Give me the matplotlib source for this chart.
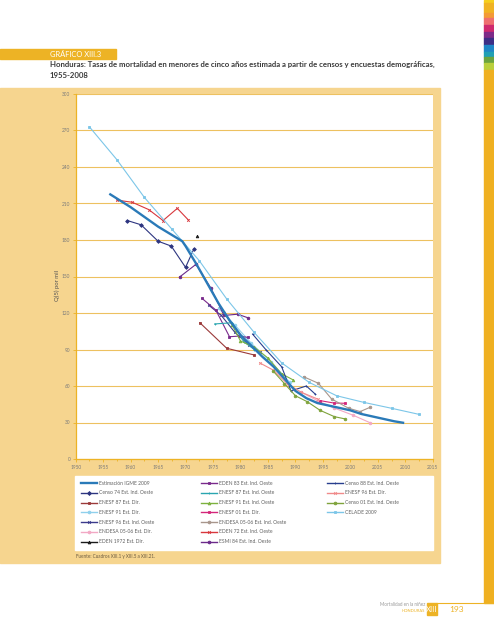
import matplotlib
matplotlib.use("Agg")
import matplotlib.pyplot as plt
from matplotlib.patches import Rectangle
from matplotlib.lines import Line2D
import numpy as np

plt.rcParams['font.family'] = ['Lato', 'DejaVu Sans']

# ---- data ----
igme_years = [1956.3, 1960, 1965, 1969.4, 1970, 1972, 1974, 1976, 1978, 1980, 1982, 1984,
              1986, 1988, 1990, 1992, 1994, 1996, 1998, 2000, 2002, 2004, 2006, 2008, 2009.6]
igme_vals = [217.5, 207, 191, 179, 175, 160, 144, 128, 114, 102, 93, 84,
             76, 66, 56, 50, 46, 44, 42, 40, 37, 35, 33, 31, 29.8]

celade_years = [1952.5, 1957.5, 1962.5, 1967.5, 1972.5, 1977.5, 1982.5, 1987.5, 1992.5,
                1997.5, 2002.5, 2007.5, 2012.5]
celade_vals = [273, 246, 215, 189, 163, 131.5, 104, 79, 63, 52, 46.5, 41.7, 36.7]

eden72_years = [1957.5, 1960.3, 1963.3, 1965.9, 1968.5, 1970.5]
eden72_vals = [212.8, 211, 205, 196, 206, 196.5]

censo74_years = [1959.4, 1961.9, 1965.0, 1967.4, 1970.0, 1971.5]
censo74_vals = [196, 192.5, 179, 175, 157.5, 172.5]

eden1972_years = [1972.0]
eden1972_vals = [183.5]

esmi84_years = [1968.9, 1971.9, 1974.6, 1977.0, 1979.5, 1981.4]
esmi84_vals = [149.5, 160, 140.5, 118, 119, 116]

eden83_years = [1973.0, 1975.5, 1978.0, 1979.7, 1981.3]
eden83_vals = [132, 122.5, 100.5, 101, 100]

enesf96i_years = [1974.2, 1976.5, 1979.0, 1981.5, 1983.5]
enesf96i_vals = [126.5, 118, 104, 94, 88]

enesf87i_years = [1975.3, 1978.5, 1980.6, 1982.5]
enesf87i_vals = [111, 112, 96.4, 90]

enesf87d_years = [1972.6, 1977.5, 1982.5]
enesf87d_vals = [112, 91, 85.5]

enesf91i_years = [1977.0, 1978.5, 1980.0, 1982.5, 1985.0, 1987.5, 1989.6]
enesf91i_vals = [120.5, 110, 97, 92, 83, 70, 65]

enesf91d_years = [1976.0, 1979.0, 1982.0, 1985.5, 1989.0]
enesf91d_vals = [124, 110, 95, 80, 63]

censo01_years = [1986.0, 1988.0, 1990.0, 1992.2, 1994.5, 1997.1, 1999.1]
censo01_vals = [72, 62, 52, 47, 40, 34.8, 32.9]

censo88_years = [1982.2, 1984.6, 1987.5, 1989.2, 1992.0, 1993.6]
censo88_vals = [102.7, 90, 75.8, 56, 60, 53.4]

enesf96d_years = [1983.5, 1986.0, 1988.5, 1991.0, 1994.2]
enesf96d_vals = [79, 73, 62, 55, 49]

endesad_years = [1991.0, 1994.0, 1997.0, 2000.5, 2003.6]
endesad_vals = [55, 48, 42, 36, 29.8]

endesai_years = [1991.5, 1994.2, 1996.6, 1999.7, 2001.8, 2003.6]
endesai_vals = [67.6, 62.2, 49.3, 41.7, 39, 42.5]

enesf01d_years = [1994.5, 1997.0, 1999.1]
enesf01d_vals = [48, 46, 45.8]

# label, years, values, colour, marker, linewidth
series = [
    ("Estimación IGME 2009", igme_years, igme_vals, '#2A7AB8', None, 1.7),
    ("Censo 74 Est. Ind. Oeste", censo74_years, censo74_vals, '#2D3580', 'D', 0.8),
    ("ENESF 87 Est. Dir.", enesf87d_years, enesf87d_vals, '#9B3A3A', 's', 0.8),
    ("ENESF 91 Est. Dir.", enesf91d_years, enesf91d_vals, '#8FD0EC', 'o', 0.8),
    ("ENESF 96 Est. Ind. Oeste", enesf96i_years, enesf96i_vals, '#3B3A8C', 'x', 0.8),
    ("ENDESA 05-06 Est. Dir.", endesad_years, endesad_vals, '#F2A8C4', 'o', 0.8),
    ("EDEN 1972 Est. Dir.", eden1972_years, eden1972_vals, '#1A1A1A', '^', 0.8),
    ("EDEN 83 Est. Ind. Oeste", eden83_years, eden83_vals, '#7A2B8C', 's', 0.8),
    ("ENESF 87 Est. Ind. Oeste", enesf87i_years, enesf87i_vals, '#2AA6B0', '+', 0.8),
    ("ENESF 91 Est. Ind. Oeste", enesf91i_years, enesf91i_vals, '#7DB23F', '^', 0.8),
    ("ENESF 01 Est. Dir.", enesf01d_years, enesf01d_vals, '#D4267A', 's', 0.8),
    ("ENDESA 05-06 Est. Ind. Oeste", endesai_years, endesai_vals, '#A8968C', 'o', 0.8),
    ("EDEN 72 Est. Ind. Oeste", eden72_years, eden72_vals, '#D8373D', 'x', 0.8),
    ("ESMI 84 Est. Ind. Oeste", esmi84_years, esmi84_vals, '#6B2A8A', 'o', 0.8),
    ("Censo 88 Est. Ind. Oeste", censo88_years, censo88_vals, '#283E8E', '+', 0.8),
    ("ENESF 96 Est. Dir.", enesf96d_years, enesf96d_vals, '#F08A8A', 'x', 0.8),
    ("Censo 01 Est. Ind. Oeste", censo01_years, censo01_vals, '#7FA33B', 'o', 0.8),
    ("CELADE 2009", celade_years, celade_vals, '#7CC6E8', 's', 0.8),
]

y_ticks = list(range(0, 301, 30))
x_ticks = list(range(1950, 2016, 5))

W, H = 494, 640
def fx(x): return x / W
def fy(y): return 1 - y / H

fig = plt.figure(figsize=(4.94, 6.4), dpi=100)
gold = '#EDB325'
peach = '#F6D58F'
grid_gold = '#EDC160'

# right colour strip
strip = [(0, 3, '#F5CF1E'), (3, 13, '#F0B323'), (13, 18, '#F39A36'), (18, 25, '#EE6F6F'),
         (25, 32, '#CE2A6E'), (32, 38, '#7E2B88'), (38, 45, '#3D2F86'), (45, 52, '#1F86C6'),
         (52, 57, '#20A0B5'), (57, 63, '#6BA43E'), (63, 70, '#B9CF3C'), (70, 603, '#EFB021')]
for top, bot, c in strip:
    fig.patches.append(Rectangle((fx(484), fy(bot)), fx(10), (bot - top) / H, color=c,
                                 transform=fig.transFigure, zorder=-5))

# title block
fig.patches.append(Rectangle((0, fy(59)), fx(116), 10 / H, color=gold, transform=fig.transFigure, zorder=-5))
fig.text(fx(50), fy(54.5), "GRÁFICO XIII.3", color='white', fontsize=5.4, va='center', ha='left')
fig.text(fx(50), fy(64.5), "Honduras: Tasas de mortalidad en menores de cinco años estimada a partir de censos y encuestas demográficas,",
         color='#3A3A3A', fontsize=5.6, fontweight='bold', va='center', ha='left')
fig.text(fx(50), fy(76), "1955-2008", color='#3A3A3A', fontsize=5.6, fontweight='bold', va='center', ha='left')

# peach panel
fig.patches.append(Rectangle((0, fy(563)), fx(440), (563 - 88) / H, color=peach,
                             transform=fig.transFigure, zorder=-5))
# legend box
fig.patches.append(Rectangle((fx(75), fy(550)), fx(433 - 75), (550 - 476) / H, color='white',
                             transform=fig.transFigure, zorder=-4))

ax = fig.add_axes([fx(75.7), fy(459), fx(432.7 - 75.7), (459 - 94) / H])
ax.set_zorder(2)
ax.set_facecolor('white')
for lab, xs, ys, c, m, lw in series:
    ms = 0 if m is None else 1.9
    ax.plot(xs, ys, color=c, lw=lw, marker=m, ms=ms, mew=0.6, label=lab, zorder=3 if m else 4)

ax.set_xlim(1950, 2015)
ax.set_ylim(0, 300)
ax.set_yticks(y_ticks)
ax.set_xticks(x_ticks)
ax.set_xticks(np.arange(1950, 2015.1, 2.5), minor=True)
ax.grid(axis='y', color=grid_gold, lw=0.8, zorder=1)
ax.set_axisbelow(True)
for s in ['top', 'right']:
    ax.spines[s].set_visible(False)
for s in ['left', 'bottom']:
    ax.spines[s].set_color(gold)
    ax.spines[s].set_linewidth(0.9)
ax.tick_params(axis='both', which='both', color=gold, labelsize=3.4, labelcolor='#7A7A7A',
               length=2, width=0.6, pad=2)
ax.tick_params(axis='x', which='minor', length=1.5)
fig.text(fx(57), fy(285), "Q(5) por mil", rotation=90, color='#555555', fontsize=4.3,
         ha='center', va='center')

# legend, three columns
col_x = [80.7, 200.7, 326.7]
row_y = [483.3, 493.0, 502.7, 512.4, 522.1, 531.8, 541.5]
for i, (lab, xs, ys, c, m, lw) in enumerate(series):
    col, row = i // 7, i % 7
    x0 = col_x[col]
    y0 = row_y[row]
    fig.add_artist(Line2D([fx(x0), fx(x0 + 16)], [fy(y0), fy(y0)], color=c,
                          lw=1.7 if m is None else 1.0, transform=fig.transFigure, zorder=5))
    if m is not None:
        fig.add_artist(Line2D([fx(x0 + 8)], [fy(y0)], color=c, marker=m, ms=2.0, mew=0.6,
                              transform=fig.transFigure, zorder=6))
    fig.text(fx(x0 + 18), fy(y0), lab, color='#606060', fontsize=3.6, va='center', ha='left', zorder=6)

fig.text(fx(75.7), fy(556.5), "Fuente: Cuadros XIII.1 y XIII.5 a XIII.21.", color='#6A5A40',
         fontsize=3.3, va='center', ha='left')

# footer
fig.add_artist(Line2D([fx(437), fx(494)], [fy(603), fy(603)], color=gold, lw=0.8, transform=fig.transFigure))
fig.patches.append(Rectangle((fx(427), fy(615)), fx(10), 12 / H, color=gold, transform=fig.transFigure, zorder=-5))
fig.text(fx(432), fy(609), "XIII", color='white', fontsize=5.5, ha='center', va='center')
fig.text(fx(457), fy(609), "193", color=gold, fontsize=6.0, ha='center', va='center')
fig.text(fx(425), fy(605), "Mortalidad en la niñez", color='#9A9A9A', fontsize=3.3, ha='right', va='center')
fig.text(fx(425), fy(611), "HONDURAS", color=gold, fontsize=3.0, ha='right', va='center')

fig.savefig("out.png", dpi=100)
